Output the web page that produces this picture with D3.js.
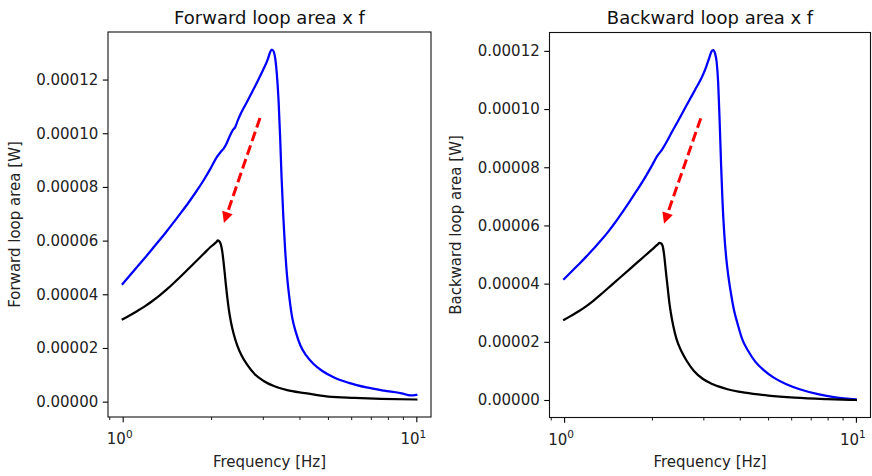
<!DOCTYPE html>
<html>
<head>
<meta charset="utf-8">
<script src="https://cdn.jsdelivr.net/npm/d3@7"></script>
<style>
  body { margin: 0; background: #fff; }
  svg { display: block; }
  text { font-family: "DejaVu Sans", sans-serif; }
</style>
</head>
<body>
<script>
// ---- Forward loop: higher curve (blue) ----
const fwdHighFreq = [1.000, 1.059, 1.122, 1.189, 1.259, 1.334, 1.413, 1.496, 1.585, 1.679, 1.778, 1.884, 1.995, 2.089, 2.163, 2.213, 2.265, 2.317, 2.371, 2.415, 2.466, 2.512, 2.630, 2.754, 2.884, 3.020, 3.126, 3.177, 3.221, 3.266, 3.311, 3.350, 3.396, 3.436, 3.475, 3.524, 3.573, 3.631, 3.698, 3.776, 3.890, 4.027, 4.217, 4.467, 4.786, 5.248, 5.888, 6.761, 7.762, 8.913, 9.550, 10.000];
const fwdHighVal = [4.39e-5, 4.71e-5, 5.03e-5, 5.35e-5, 5.68e-5, 6.01e-5, 6.35e-5, 6.70e-5, 7.06e-5, 7.43e-5, 7.82e-5, 8.24e-5, 8.70e-5, 9.10e-5, 9.32e-5, 9.45e-5, 9.65e-5, 9.90e-5, 10.12e-5, 10.22e-5, 10.48e-5, 10.68e-5, 11.10e-5, 11.52e-5, 11.95e-5, 12.40e-5, 12.78e-5, 13.02e-5, 13.12e-5, 13.05e-5, 12.75e-5, 12.20e-5, 11.20e-5, 9.90e-5, 8.40e-5, 6.90e-5, 5.70e-5, 4.65e-5, 3.85e-5, 3.15e-5, 2.58e-5, 2.10e-5, 1.72e-5, 1.40e-5, 1.14e-5, 0.90e-5, 0.70e-5, 0.53e-5, 0.41e-5, 0.31e-5, 0.23e-5, 0.25e-5];

// ---- Forward loop: lower curve (black) ----
const fwdLowFreq = [1.000, 1.059, 1.122, 1.189, 1.259, 1.334, 1.413, 1.496, 1.585, 1.679, 1.778, 1.884, 1.995, 2.089, 2.109, 2.138, 2.163, 2.183, 2.203, 2.223, 2.244, 2.270, 2.301, 2.339, 2.388, 2.455, 2.541, 2.661, 2.818, 3.020, 3.273, 3.631, 4.169, 5.012, 6.166, 7.586, 10.000];
const fwdLowVal = [3.07e-5, 3.22e-5, 3.38e-5, 3.55e-5, 3.74e-5, 3.95e-5, 4.18e-5, 4.43e-5, 4.69e-5, 4.96e-5, 5.23e-5, 5.50e-5, 5.77e-5, 5.96e-5, 6.01e-5, 5.96e-5, 5.83e-5, 5.60e-5, 5.25e-5, 4.85e-5, 4.40e-5, 3.90e-5, 3.40e-5, 2.95e-5, 2.52e-5, 2.10e-5, 1.72e-5, 1.36e-5, 1.02e-5, 0.77e-5, 0.58e-5, 0.43e-5, 0.32e-5, 0.19e-5, 0.14e-5, 0.105e-5, 0.08e-5];

// ---- Backward loop: higher curve (blue) ----
const bwdHighFreq = [1.000, 1.059, 1.122, 1.189, 1.259, 1.334, 1.413, 1.496, 1.585, 1.679, 1.778, 1.884, 1.995, 2.089, 2.163, 2.239, 2.344, 2.455, 2.570, 2.692, 2.818, 2.951, 3.055, 3.141, 3.199, 3.243, 3.289, 3.334, 3.373, 3.412, 3.451, 3.491, 3.540, 3.597, 3.656, 3.733, 3.819, 3.936, 4.074, 4.266, 4.519, 4.842, 5.248, 5.754, 6.457, 7.413, 8.511, 10.000];
const bwdHighVal = [4.16e-5, 4.41e-5, 4.66e-5, 4.92e-5, 5.19e-5, 5.47e-5, 5.77e-5, 6.10e-5, 6.46e-5, 6.83e-5, 7.21e-5, 7.61e-5, 8.04e-5, 8.40e-5, 8.60e-5, 8.85e-5, 9.22e-5, 9.58e-5, 9.95e-5, 10.32e-5, 10.68e-5, 11.05e-5, 11.40e-5, 11.75e-5, 11.98e-5, 12.03e-5, 11.92e-5, 11.60e-5, 10.90e-5, 9.60e-5, 8.10e-5, 6.80e-5, 5.70e-5, 4.85e-5, 4.25e-5, 3.65e-5, 3.10e-5, 2.60e-5, 2.10e-5, 1.70e-5, 1.32e-5, 1.02e-5, 0.76e-5, 0.55e-5, 0.36e-5, 0.20e-5, 0.09e-5, 0.02e-5];

// ---- Backward loop: lower curve (black) ----
const bwdLowFreq = [1.000, 1.059, 1.122, 1.189, 1.259, 1.334, 1.413, 1.496, 1.585, 1.679, 1.778, 1.884, 1.995, 2.089, 2.123, 2.153, 2.178, 2.198, 2.218, 2.239, 2.265, 2.291, 2.323, 2.366, 2.427, 2.512, 2.630, 2.786, 2.985, 3.236, 3.631, 4.169, 5.012, 6.166, 7.943, 10.000];
const bwdLowVal = [2.76e-5, 2.90e-5, 3.05e-5, 3.22e-5, 3.41e-5, 3.62e-5, 3.84e-5, 4.06e-5, 4.28e-5, 4.50e-5, 4.72e-5, 4.94e-5, 5.16e-5, 5.34e-5, 5.40e-5, 5.38e-5, 5.28e-5, 5.05e-5, 4.70e-5, 4.30e-5, 3.85e-5, 3.40e-5, 2.98e-5, 2.55e-5, 2.10e-5, 1.72e-5, 1.35e-5, 1.00e-5, 0.73e-5, 0.54e-5, 0.37e-5, 0.25e-5, 0.15e-5, 0.08e-5, 0.03e-5, 0.00];

// ---- Arrows (frequency, value): start and tip ----
const fwdArrowFrom = [2.935, 1.057e-4];
const fwdArrowTo   = [2.212, 0.666e-4];
const bwdArrowFrom = [2.94, 0.968e-4];
const bwdArrowTo   = [2.20, 0.606e-4];

// ---- Tick values and labels ----
const yTickValues = [0, 0.00002, 0.00004, 0.00006, 0.00008, 0.00010, 0.00012];
const yTickLabels = ["0.00000", "0.00002", "0.00004", "0.00006", "0.00008", "0.00010", "0.00012"];
const xMajorTicks = [1, 10];
const xMajorExp = ["0", "1"];
const xMinorTicks = [0.9, 2, 3, 4, 5, 6, 7, 8, 9];

const titles = ["Forward loop area x f", "Backward loop area x f"];
const yLabels = ["Forward loop area [W]", "Backward loop area [W]"];
const xLabel = "Frequency [Hz]";

const W = 872, H = 476;
const svg = d3.select("body").append("svg").attr("width", W).attr("height", H);

const zip = (f, v) => f.map((d, i) => [d, v[i]]);

const panels = [
  {
    box: { l: 108, r: 431, t: 32, b: 417 },
    ylabelX: 20,
    title: titles[0], ylabel: yLabels[0],
    series: [
      { pts: zip(fwdHighFreq, fwdHighVal), color: "#0000ff" },
      { pts: zip(fwdLowFreq, fwdLowVal), color: "#000000" }
    ],
    arrow: [fwdArrowFrom, fwdArrowTo]
  },
  {
    box: { l: 549.5, r: 870.5, t: 32.5, b: 417.5 },
    ylabelX: 461,
    title: titles[1], ylabel: yLabels[1],
    series: [
      { pts: zip(bwdHighFreq, bwdHighVal), color: "#0000ff" },
      { pts: zip(bwdLowFreq, bwdLowVal), color: "#000000" }
    ],
    arrow: [bwdArrowFrom, bwdArrowTo]
  }
];

const fs = 15;          // tick / label font size
const majorLen = 5.25, minorLen = 3;

panels.forEach(p => {
  const b = p.box;
  const allPts = p.series.flatMap(s => s.pts);
  const fx = d3.extent(allPts, d => d[0]);
  const vy = d3.extent(allPts, d => d[1]);
  // 5% margins, log space on x
  const lx0 = Math.log10(fx[0]), lx1 = Math.log10(fx[1]);
  const mx = (lx1 - lx0) * 0.05;
  const my = (vy[1] - vy[0]) * 0.05;

  const x = d3.scaleLog().domain([Math.pow(10, lx0 - mx), Math.pow(10, lx1 + mx)]).range([b.l, b.r]);
  const y = d3.scaleLinear().domain([vy[0] - my, vy[1] + my]).range([b.b, b.t]);

  const g = svg.append("g");

  // curves
  const line = d3.line().x(d => x(d[0])).y(d => y(d[1])).curve(d3.curveMonotoneX);
  p.series.forEach(s => {
    g.append("path")
      .attr("d", line(s.pts))
      .attr("fill", "none")
      .attr("stroke", s.color)
      .attr("stroke-width", 2.25)
      .attr("stroke-linejoin", "round")
      .attr("stroke-linecap", "square");
  });

  // dashed red arrow
  const [a0, a1] = p.arrow;
  const x0 = x(a0[0]), y0 = y(a0[1]), x1 = x(a1[0]), y1 = y(a1[1]);
  const dx = x1 - x0, dy = y1 - y0, len = Math.hypot(dx, dy);
  const ux = dx / len, uy = dy / len;
  const headLen = 11, headHalf = 5.5;
  const bx = x1 - ux * headLen, by = y1 - uy * headLen;
  g.append("line")
    .attr("x1", x0).attr("y1", y0).attr("x2", bx + ux * 1).attr("y2", by + uy * 1)
    .attr("stroke", "#ff0000").attr("stroke-width", 3)
    .attr("stroke-dasharray", "10,4.5");
  g.append("path")
    .attr("d", `M${x1},${y1}L${bx - uy * headHalf},${by + ux * headHalf}L${bx + uy * headHalf},${by - ux * headHalf}Z`)
    .attr("fill", "#ff0000");

  // y axis
  const yAxis = d3.axisLeft(y)
    .tickValues(yTickValues)
    .tickFormat((d, i) => yTickLabels[i])
    .tickSize(majorLen).tickPadding(4.5);
  const gy = svg.append("g").attr("transform", `translate(${b.l},0)`).call(yAxis);
  gy.select(".domain").remove();
  gy.selectAll("line").attr("stroke", "#000").attr("stroke-width", 1.1);
  gy.selectAll("text").attr("font-size", fs).attr("font-family", "DejaVu Sans").attr("fill", "#222");

  // x axis: minor ticks
  const gxm = svg.append("g").attr("transform", `translate(0,${b.b})`)
    .call(d3.axisBottom(x).tickValues(xMinorTicks).tickSize(minorLen).tickFormat(""));
  gxm.select(".domain").remove();
  gxm.selectAll("line").attr("stroke", "#000").attr("stroke-width", 0.9);

  // x axis: major ticks with 10^n labels
  const gx = svg.append("g").attr("transform", `translate(0,${b.b})`)
    .call(d3.axisBottom(x).tickValues(xMajorTicks).tickSize(majorLen).tickFormat(""));
  gx.select(".domain").remove();
  gx.selectAll("line").attr("stroke", "#000").attr("stroke-width", 1.1);
  gx.selectAll(".tick").each(function (d, i) {
    const t = d3.select(this).append("text")
      .attr("x", -3.5).attr("y", 27)
      .attr("text-anchor", "middle")
      .attr("fill", "#222")
      .attr("font-size", fs)
      .attr("font-family", "DejaVu Sans");
    t.append("tspan").text("10");
    t.append("tspan").attr("dy", -6.5).attr("font-size", 10.5).text(xMajorExp[i]);
  });

  // frame
  svg.append("rect")
    .attr("x", b.l).attr("y", b.t)
    .attr("width", b.r - b.l).attr("height", b.b - b.t)
    .attr("fill", "none").attr("stroke", "#111").attr("stroke-width", 1.1);

  // title
  svg.append("text")
    .attr("x", (b.l + b.r) / 2).attr("y", 24)
    .attr("text-anchor", "middle")
    .attr("font-size", 18).attr("fill", "#111")
    .text(p.title);

  // axis labels
  svg.append("text")
    .attr("x", (b.l + b.r) / 2).attr("y", 467)
    .attr("text-anchor", "middle")
    .attr("font-size", fs).attr("fill", "#222")
    .text(xLabel);
  svg.append("text")
    .attr("transform", `translate(${p.ylabelX},${(b.t + b.b) / 2}) rotate(-90)`)
    .attr("text-anchor", "middle")
    .attr("font-size", fs).attr("fill", "#222")
    .text(p.ylabel);
});
</script>
</body>
</html>
